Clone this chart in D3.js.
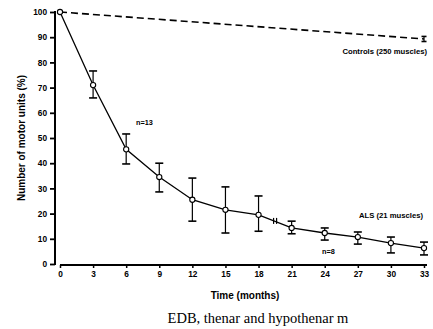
<!DOCTYPE html>
<html><head><meta charset="utf-8">
<script src="https://cdn.jsdelivr.net/npm/d3@7"></script>
<style>body{margin:0;background:#fff}svg{display:block}</style>
</head><body>
<svg id="c" width="433" height="329"></svg>
<script>
const months = [0,3,6,9,12,15,18,21,24,27,30,33];
const alsMean = [100,71,45.5,34.5,25.5,21.5,19.5,14.3,12.3,10.7,8.3,6.3];
const alsHigh = [null,76.6,51.6,40,34.1,30.6,27,17,14.3,12.7,10.7,8.7];
const alsLow  = [null,65.9,39.7,28.6,17,12.3,13,12,9.5,7.9,4.4,3.6];
const ctrlMonths = [0,33];
const ctrlMean = [100,89.3];
const ctrlHigh = [null,90.3];
const ctrlLow = [null,88.3];
const yTicks = [0,10,20,30,40,50,60,70,80,90,100];
const xTicks = [0,3,6,9,12,15,18,21,24,27,30,33];

const svg = d3.select("#c");
const x = d3.scaleLinear().domain([0,33]).range([60,424]);
const y = d3.scaleLinear().domain([0,100]).range([264,12]);
const font = "'Liberation Sans', Arial, sans-serif";

// Y axis
const ya = svg.append("g").attr("transform","translate(55,0)")
  .call(d3.axisLeft(y).tickValues(yTicks).tickSize(5).tickSizeOuter(0).tickPadding(3));
ya.select(".domain").attr("stroke-width",2).attr("d","M0,"+(y(100)-1)+"V"+(y(0)+1));
ya.selectAll(".tick line").attr("stroke-width",1.8);
ya.selectAll(".tick text").attr("font-family",font).attr("font-weight","bold").attr("font-size",8.3).attr("fill","#000");

// X axis
const xa = svg.append("g").attr("transform","translate(0,265)")
  .call(d3.axisBottom(x).tickValues(xTicks).tickSize(3).tickSizeOuter(0).tickPadding(3));
xa.select(".domain").attr("stroke-width",2).attr("d","M"+x(0)+",0H"+(x(33)+3));
xa.selectAll(".tick line").attr("stroke-width",1.5);
xa.selectAll(".tick text").attr("font-family",font).attr("font-weight","bold").attr("font-size",8.3).attr("fill","#000");

// Controls dashed line
const line = d3.line().x(d=>x(d[0])).y(d=>y(d[1]));
svg.append("path").datum(ctrlMonths.map((m,i)=>[m,ctrlMean[i]]))
  .attr("d",line).attr("fill","none").attr("stroke","#000").attr("stroke-width",1.6)
  .attr("stroke-dasharray","7,4");

// ALS line
svg.append("path").datum(months.map((m,i)=>[m,alsMean[i]]))
  .attr("d",line).attr("fill","none").attr("stroke","#000").attr("stroke-width",1.3);

// break marker between 18 and 21
const bm = 19.5, bv = (alsMean[6]+alsMean[7])/2 + 0.2;
[-1.5,1.5].forEach(o=>{
  svg.append("line").attr("x1",x(bm)+o).attr("x2",x(bm)+o)
    .attr("y1",y(bv)-3).attr("y2",y(bv)+3).attr("stroke","#000").attr("stroke-width",1.2);
});

// error bars
function errBars(ms, hi, lo, cap){
  ms.forEach((m,i)=>{
    if(hi[i]==null) return;
    const g = svg.append("g").attr("stroke","#000").attr("stroke-width",1.2);
    g.append("line").attr("x1",x(m)).attr("x2",x(m)).attr("y1",y(hi[i])).attr("y2",y(lo[i]));
    g.append("line").attr("x1",x(m)-cap).attr("x2",x(m)+cap).attr("y1",y(hi[i])).attr("y2",y(hi[i])).attr("stroke-width",1.6);
    g.append("line").attr("x1",x(m)-cap).attr("x2",x(m)+cap).attr("y1",y(lo[i])).attr("y2",y(lo[i])).attr("stroke-width",1.6);
  });
}
errBars(months, alsHigh, alsLow, 4);
errBars(ctrlMonths, ctrlHigh, ctrlLow, 2.5);

// markers
svg.selectAll("circle.als").data(months.map((m,i)=>[m,alsMean[i]])).enter()
  .append("circle").attr("cx",d=>x(d[0])).attr("cy",d=>y(d[1])).attr("r",2.6)
  .attr("fill","#fff").attr("stroke","#000").attr("stroke-width",1.1);

// annotations
function txt(t,xx,yy,size,anchor,weight,fam){
  return svg.append("text").attr("x",xx).attr("y",yy).attr("font-size",size)
    .attr("font-family",fam||font).attr("font-weight",weight||"bold")
    .attr("text-anchor",anchor||"start").attr("fill","#000").text(t);
}
txt("Controls (250 muscles)", 427, 54, 7.7, "end");
txt("ALS (21 muscles)", 423, 218, 7.7, "end");
txt("n=13", 136, 125, 7.3, "start");
txt("n=8", 322, 254, 7.3, "start");
txt("Time (months)", 245, 299, 10, "middle");
svg.append("text").attr("transform","translate(25,138) rotate(-90)")
  .attr("font-size",10).attr("font-family",font).attr("font-weight","bold")
  .attr("text-anchor","middle").text("Number of motor units (%)");
txt("EDB, thenar and hypothenar m", 258, 323, 14.5, "middle", "normal", "'Liberation Serif', 'Times New Roman', serif");
</script>
</body></html>
